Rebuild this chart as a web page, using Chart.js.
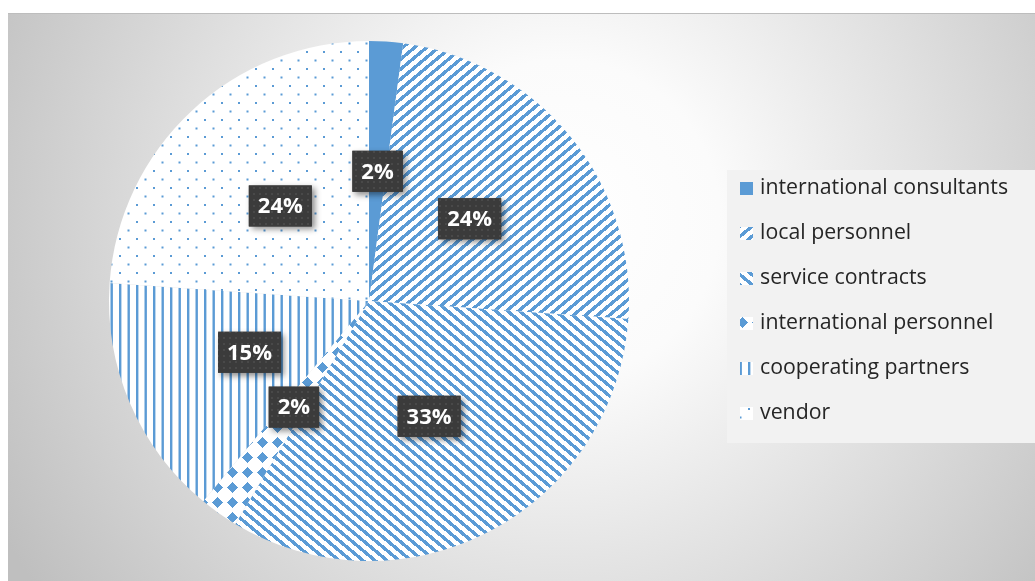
<!DOCTYPE html>
<html>
<head>
<meta charset="utf-8">
<script src="https://cdn.jsdelivr.net/npm/chart.js@4.4.0/dist/chart.umd.min.js"></script>
<style>
html, body { margin: 0; padding: 0; background: #fff; }
#wrap { width: 1035px; height: 581px; position: relative; }
</style>
</head>
<body>
<div id="wrap"><canvas id="pastel"></canvas></div>
<script>
// datos del gráfico (porcentajes)
const categorias = ['international consultants', 'local personnel', 'service contracts',
                    'international personnel', 'cooperating partners', 'vendor'];
const valores = [2.1, 24.0, 32.5, 2.4, 15.1, 23.9];

const azul = '#5b9bd5';
const canvas = document.getElementById('pastel');
const ctxMain = canvas.getContext('2d');

// crear un patrón a partir de una baldosa pequeña
function crearPatron(w, h, dibujar) {
    const c = document.createElement('canvas');
    c.width = w;
    c.height = h;
    const g = c.getContext('2d');
    g.fillStyle = '#ffffff';
    g.fillRect(0, 0, w, h);
    g.fillStyle = azul;
    dibujar(g, w, h);
    return ctxMain.createPattern(c, 'repeat');
}

function pixeles(cond) {
    return (g, w, h) => {
        for (let y = 0; y < h; y++) {
            for (let x = 0; x < w; x++) {
                if (cond(x, y)) g.fillRect(x, y, 1, 1);
            }
        }
    };
}

const frac = v => ((v % 1) + 1) % 1;

const patrones = [
    azul,
    // diagonal ascendente ancha
    crearPatron(12, 10, pixeles((x, y) => frac(x / 12 + y / 10) < 0.42)),
    // diagonal descendente ancha
    crearPatron(12, 10, pixeles((x, y) => frac(x / 12 - y / 10) < 0.42)),
    // rombos
    crearPatron(15, 15, pixeles((x, y) => Math.abs(x - 7) + Math.abs(y - 7) < 5.5)),
    // líneas verticales
    crearPatron(17, 17, g => {
        g.fillRect(0, 0, 2.4, 17);
        g.fillRect(8.5, 0, 2.4, 17);
    }),
    // puntos
    crearPatron(17, 17, g => {
        g.fillRect(0, 0, 2, 2);
        g.fillRect(8.5, 8.5, 2, 2);
    })
];

// textura de las etiquetas oscuras
const texturaEtiqueta = (() => {
    const c = document.createElement('canvas');
    c.width = 6; c.height = 6;
    const g = c.getContext('2d');
    g.fillStyle = '#3b3b3b';
    g.fillRect(0, 0, 6, 6);
    g.fillStyle = '#494949';
    g.fillRect(1, 1, 2, 2);
    return ctxMain.createPattern(c, 'repeat');
})();

// fondo con degradado radial
const fondo = {
    id: 'fondo',
    beforeDraw(chart) {
        const ctx = chart.ctx;
        ctx.save();
        ctx.fillStyle = '#ffffff';
        ctx.fillRect(0, 0, chart.width, chart.height);
        const grad = ctx.createRadialGradient(560, 220, 0, 560, 220, 640);
        grad.addColorStop(0, '#ffffff');
        grad.addColorStop(0.25, '#fbfbfb');
        grad.addColorStop(1, '#bfbfbf');
        ctx.fillStyle = grad;
        ctx.fillRect(8, 13, chart.width - 8, chart.height - 13);
        ctx.fillStyle = '#bdbdbd';
        ctx.fillRect(8, 13, chart.width - 8, 1);
        ctx.restore();
    }
};

// etiquetas de porcentaje
const etiquetas = {
    id: 'etiquetas',
    afterDatasetsDraw(chart) {
        const ctx = chart.ctx;
        const meta = chart.getDatasetMeta(0);
        const total = valores.reduce((a, b) => a + b, 0);
        ctx.save();
        ctx.font = 'bold 22px "Open Sans"';
        ctx.textAlign = 'center';
        ctx.textBaseline = 'middle';
        meta.data.forEach((arc, i) => {
            const p = arc.tooltipPosition();
            const texto = Math.round(valores[i] / total * 100) + '%';
            const ancho = ctx.measureText(texto).width + 18;
            const alto = 41;
            ctx.save();
            ctx.shadowColor = 'rgba(0,0,0,0.45)';
            ctx.shadowBlur = 6;
            ctx.shadowOffsetX = 3;
            ctx.shadowOffsetY = 3;
            ctx.fillStyle = '#3b3b3b';
            ctx.fillRect(p.x - ancho / 2, p.y - alto / 2, ancho, alto);
            ctx.restore();
            ctx.fillStyle = texturaEtiqueta;
            ctx.fillRect(p.x - ancho / 2, p.y - alto / 2, ancho, alto);
            ctx.fillStyle = '#ffffff';
            ctx.fillText(texto, p.x, p.y + 1);
        });
        ctx.restore();
    }
};

// leyenda a la derecha
const leyenda = {
    id: 'leyenda',
    afterDraw(chart) {
        const ctx = chart.ctx;
        ctx.save();
        ctx.fillStyle = '#f2f2f2';
        ctx.fillRect(727, 170, 308, 273);
        ctx.font = '21.3px "Open Sans"';
        ctx.textBaseline = 'middle';
        ctx.textAlign = 'left';
        categorias.forEach((nombre, i) => {
            const y = 188 + i * 45;
            ctx.fillStyle = '#ffffff';
            ctx.fillRect(740, y - 6, 13, 13);
            ctx.fillStyle = patrones[i];
            ctx.fillRect(740, y - 6, 13, 13);
            ctx.fillStyle = '#262626';
            ctx.fillText(nombre, 760, y);
        });
        ctx.restore();
    }
};

new Chart(ctxMain, {
    type: 'pie',
    data: {
        labels: categorias,
        datasets: [{
            data: valores,
            backgroundColor: patrones,
            borderWidth: 0
        }]
    },
    options: {
        responsive: true,
        maintainAspectRatio: false,
        devicePixelRatio: 1,
        animation: false,
        layout: {
            padding: { top: 41, bottom: 20, left: 109, right: 406 }
        },
        plugins: {
            legend: { display: false },
            tooltip: { enabled: false }
        }
    },
    plugins: [fondo, etiquetas, leyenda]
});
</script>
</body>
</html>
